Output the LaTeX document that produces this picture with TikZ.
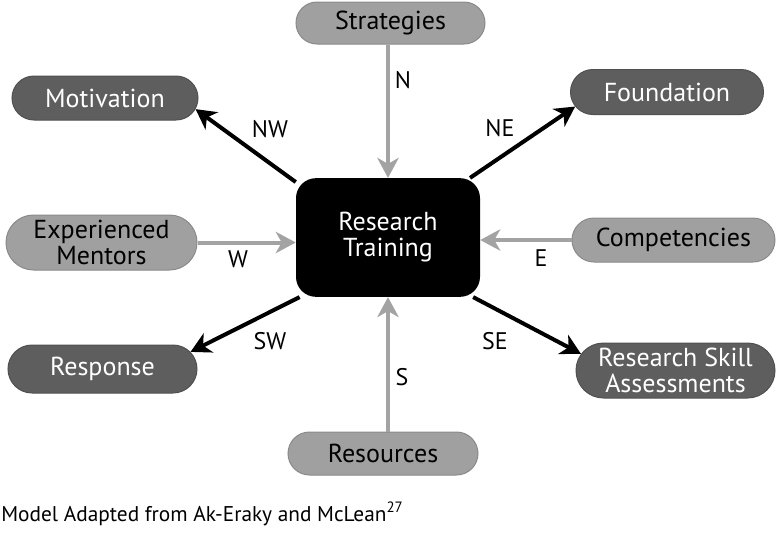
\documentclass[tikz,border=0pt]{standalone}
\usepackage{fontspec}
\setmainfont{PT Sans}
\usetikzlibrary{shapes.misc,arrows.meta}
\definecolor{lightg}{HTML}{A0A0A0}
\definecolor{lightb}{HTML}{8A8A8A}
\definecolor{darkg}{HTML}{5E5E5E}
\definecolor{darkb}{HTML}{505050}
\definecolor{arrg}{HTML}{A3A3A3}
\begin{document}
\begin{tikzpicture}[x=0.75pt,y=-0.75pt,
  pill/.style={rounded rectangle, inner sep=0pt, align=center, font=\fontsize{19.5}{19}\selectfont},
  lightpill/.style={pill, fill=lightg, draw=lightb, line width=0.75pt, text=black},
  darkpill/.style={pill, fill=darkg, draw=darkb, line width=0.75pt, text=white},
  hub/.style={rectangle, rounded corners=15pt, fill=black, text=white, minimum width=138pt, minimum height=89pt, inner sep=0pt, align=center, font=\fontsize{19.5}{19.5}\selectfont},
  tip/.style={-{Stealth[length=15pt,width=16pt,inset=4.5pt]}},
  inarrow/.style={draw=arrg, line width=3pt, tip},
  outarrow/.style={draw=black, line width=3pt, tip},
  dirlabel/.style={inner sep=0pt, font=\fontsize{18}{18}\selectfont}]
\useasboundingbox (0,0) rectangle (776,536);

\node[hub] (c) at (388,237.5) {Research\\Training};

\node[lightpill, minimum width=141.75pt, minimum height=31.5pt] (str) at (390.5,23) {Strategies};
\node[darkpill, minimum width=139.5pt, minimum height=33pt] (mot) at (105,98) {Motivation};
\node[darkpill, minimum width=144.75pt, minimum height=33.75pt] (fnd) at (667,92) {Foundation};
\node[lightpill, minimum width=143.25pt, minimum height=41.25pt] (ment) at (101.5,242.5) {Experienced\\Mentors};
\node[lightpill, minimum width=152.25pt, minimum height=33pt] (comp) at (673.5,240) {Competencies};
\node[darkpill, minimum width=141.75pt, minimum height=36pt] (resp) at (102.5,369) {Response};
\node[darkpill, minimum width=149.25pt, minimum height=41.25pt] (rsa) at (675.5,370.5) {Research Skill\\Assessments};
\node[lightpill, minimum width=142.5pt, minimum height=32.25pt] (res) at (383,453.5) {Resources};

\draw[inarrow] (str.south -| c.north) -- (c.north);
\draw[inarrow] (res.north -| c.south) -- (c.south);
\draw[inarrow] (ment.east) -- (ment.east -| c.west);
\draw[inarrow] (comp.west) -- (comp.west -| c.east);
\draw[outarrow] (c.149.3) -- (mot.-7.8);
\draw[outarrow] (c.36.6) -- (fnd.189.3);
\draw[outarrow] (c.214.1) -- (resp.11.3);
\draw[outarrow] (c.-35.3) -- (rsa.170.4);

\node[dirlabel] (ln) at (403,80) {N};
\node[dirlabel] (lnw) at (270,129.5) {NW};
\node[dirlabel] (lne) at (500,128) {NE};
\node[dirlabel] (lw) at (238,259) {W};
\node[dirlabel] (le) at (541,258) {E};
\node[dirlabel] (lsw) at (270,341) {SW};
\node[dirlabel] (lse) at (495,341) {SE};
\node[dirlabel] (ls) at (402,377) {S};

\node[anchor=base west, inner sep=0pt, font=\fontsize{16}{17}\selectfont] (cap) at (1,521) {Model Adapted from Ak-Eraky and McLean\textsuperscript{27}};
\end{tikzpicture}
\end{document}
